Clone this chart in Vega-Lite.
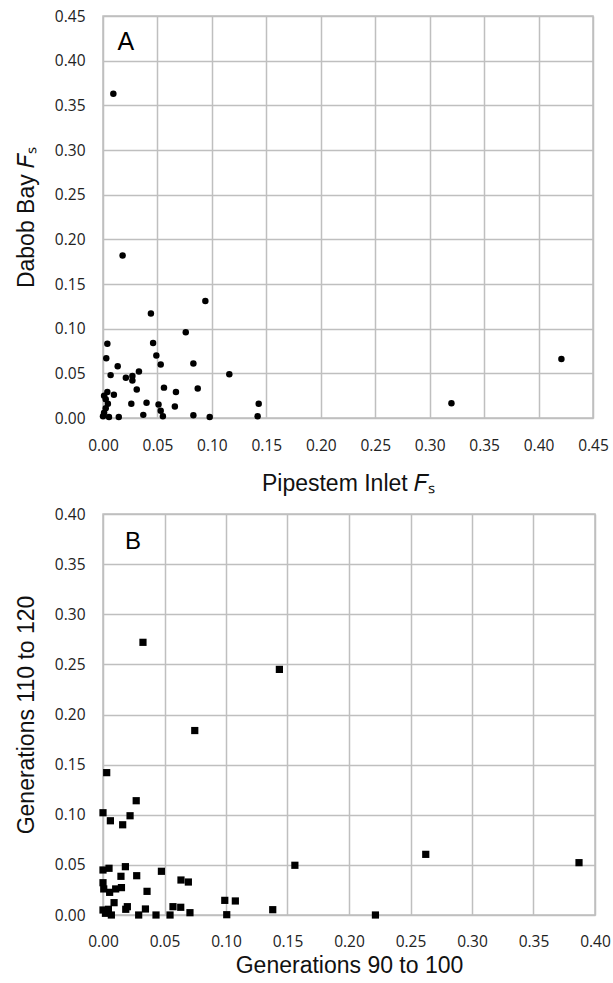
{
  "$schema": "https://vega.github.io/schema/vega-lite/v6.json",
  "background": "white",
  "padding": {"left": 14, "top": 8, "right": 5, "bottom": 3},
  "spacing": 9,
  "config": {
    "view": {"stroke": "#bfbfbf", "strokeWidth": 1.5},
    "axis": {
      "grid": true, "gridColor": "#bfbfbf", "gridWidth": 1.5,
      "domain": false, "ticks": false,
      "labelFont": "Open Sans", "labelFontSize": 15.5, "labelColor": "#222",
      "labelFlush": false, "labelOverlap": false,
      "titleFont": "Liberation Sans", "titleFontSize": 23, "titleFontWeight": "normal", "titleColor": "#111"
    }
  },
  "datasets": {
    "A": [
      {"x": 0.0095, "y": 0.363}, {"x": 0.018, "y": 0.182}, {"x": 0.094, "y": 0.131}, {"x": 0.044, "y": 0.117},
      {"x": 0.076, "y": 0.096}, {"x": 0.004, "y": 0.083}, {"x": 0.046, "y": 0.084}, {"x": 0.003, "y": 0.067},
      {"x": 0.049, "y": 0.070}, {"x": 0.0135, "y": 0.058}, {"x": 0.053, "y": 0.060}, {"x": 0.083, "y": 0.061},
      {"x": 0.007, "y": 0.048}, {"x": 0.021, "y": 0.045}, {"x": 0.027, "y": 0.047}, {"x": 0.027, "y": 0.042},
      {"x": 0.033, "y": 0.052}, {"x": 0.116, "y": 0.049}, {"x": 0.031, "y": 0.032}, {"x": 0.056, "y": 0.034},
      {"x": 0.067, "y": 0.029}, {"x": 0.087, "y": 0.033}, {"x": 0.004, "y": 0.029}, {"x": 0.001, "y": 0.025},
      {"x": 0.010, "y": 0.026}, {"x": 0.0025, "y": 0.021}, {"x": 0.0045, "y": 0.016}, {"x": 0.026, "y": 0.016},
      {"x": 0.040, "y": 0.017}, {"x": 0.051, "y": 0.015}, {"x": 0.066, "y": 0.013}, {"x": 0.143, "y": 0.016},
      {"x": 0.053, "y": 0.008}, {"x": 0.0025, "y": 0.011}, {"x": 0.001, "y": 0.006}, {"x": 0.000, "y": 0.002},
      {"x": 0.0055, "y": 0.001}, {"x": 0.0145, "y": 0.001}, {"x": 0.037, "y": 0.0035}, {"x": 0.055, "y": 0.002},
      {"x": 0.083, "y": 0.003}, {"x": 0.098, "y": 0.001}, {"x": 0.142, "y": 0.002}, {"x": 0.320, "y": 0.0165},
      {"x": 0.421, "y": 0.066}
    ],
    "B": [
      {"x": 0.0325, "y": 0.272}, {"x": 0.1434, "y": 0.245}, {"x": 0.0746, "y": 0.184}, {"x": 0.003, "y": 0.142},
      {"x": 0.000, "y": 0.102}, {"x": 0.006, "y": 0.094}, {"x": 0.016, "y": 0.090}, {"x": 0.022, "y": 0.099},
      {"x": 0.027, "y": 0.114}, {"x": 0.138, "y": 0.0053}, {"x": 0.156, "y": 0.0496}, {"x": 0.2215, "y": 0.0},
      {"x": 0.2624, "y": 0.0605}, {"x": 0.387, "y": 0.0522},
      {"x": 0.000, "y": 0.0449}, {"x": 0.0049, "y": 0.0466}, {"x": 0.0182, "y": 0.0482}, {"x": 0.0475, "y": 0.0436},
      {"x": 0.0146, "y": 0.0386}, {"x": 0.0274, "y": 0.0392}, {"x": 0.0634, "y": 0.0349}, {"x": 0.0694, "y": 0.0329},
      {"x": 0.000, "y": 0.0322}, {"x": 0.0006, "y": 0.026}, {"x": 0.0054, "y": 0.0226}, {"x": 0.0103, "y": 0.026},
      {"x": 0.015, "y": 0.0273}, {"x": 0.0358, "y": 0.0236}, {"x": 0.099, "y": 0.0146}, {"x": 0.1076, "y": 0.014},
      {"x": 0.009, "y": 0.0123}, {"x": 0.0198, "y": 0.0083}, {"x": 0.0185, "y": 0.0057}, {"x": 0.0345, "y": 0.006},
      {"x": 0.0569, "y": 0.0083}, {"x": 0.0632, "y": 0.0077}, {"x": 0.0707, "y": 0.0023}, {"x": 0.000, "y": 0.005},
      {"x": 0.0044, "y": 0.0057}, {"x": 0.002, "y": 0.0017}, {"x": 0.0068, "y": 0.0}, {"x": 0.029, "y": 0.0},
      {"x": 0.0431, "y": 0.0}, {"x": 0.0545, "y": 0.0}, {"x": 0.1006, "y": 0.0003}
    ],
    "labA": [{"x": 0.021, "y": 0.421, "label": "A"}],
    "labB": [{"x": 0.0244, "y": 0.3716, "label": "B"}]
  },
  "vconcat": [
    {
      "width": 490, "height": 402,
      "layer": [
        {
          "data": {"name": "A"},
          "mark": {"type": "point", "shape": "circle", "filled": true, "color": "black", "size": 42, "opacity": 1},
          "encoding": {
            "x": {"field": "x", "type": "quantitative", "scale": {"domain": [0, 0.45], "nice": false},
                  "axis": {"values": [0, 0.05, 0.1, 0.15, 0.2, 0.25, 0.3, 0.35, 0.4, 0.45], "format": ".2f", "title": "Pipestem Inlet 𝐹ₛ", "labelPadding": 20, "titlePadding": 19}},
            "y": {"field": "y", "type": "quantitative", "scale": {"domain": [0, 0.45], "nice": false},
                  "axis": {"values": [0, 0.05, 0.1, 0.15, 0.2, 0.25, 0.3, 0.35, 0.4, 0.45], "format": ".2f", "title": "Dabob Bay 𝐹ₛ", "labelPadding": 18, "titlePadding": 16}}
          }
        },
        {
          "data": {"name": "labA"},
          "mark": {"type": "text", "font": "Liberation Sans", "fontSize": 25, "color": "black", "align": "center", "baseline": "middle"},
          "encoding": {
            "x": {"field": "x", "type": "quantitative"},
            "y": {"field": "y", "type": "quantitative"},
            "text": {"field": "label"}
          }
        }
      ]
    },
    {
      "width": 492, "height": 401,
      "layer": [
        {
          "data": {"name": "B"},
          "mark": {"type": "point", "shape": "square", "filled": true, "color": "black", "size": 52, "opacity": 1},
          "encoding": {
            "x": {"field": "x", "type": "quantitative", "scale": {"domain": [0, 0.4], "nice": false},
                  "axis": {"values": [0, 0.05, 0.1, 0.15, 0.2, 0.25, 0.3, 0.35, 0.4], "format": ".2f", "title": "Generations 90 to 100", "labelPadding": 19, "titlePadding": 5}},
            "y": {"field": "y", "type": "quantitative", "scale": {"domain": [0, 0.4], "nice": false},
                  "axis": {"values": [0, 0.05, 0.1, 0.15, 0.2, 0.25, 0.3, 0.35, 0.4], "format": ".2f", "title": "Generations 110 to 120", "labelPadding": 18, "titlePadding": 16}}
          }
        },
        {
          "data": {"name": "labB"},
          "mark": {"type": "text", "font": "Liberation Sans", "fontSize": 24, "color": "black", "align": "center", "baseline": "middle"},
          "encoding": {
            "x": {"field": "x", "type": "quantitative"},
            "y": {"field": "y", "type": "quantitative"},
            "text": {"field": "label"}
          }
        }
      ]
    }
  ]
}
